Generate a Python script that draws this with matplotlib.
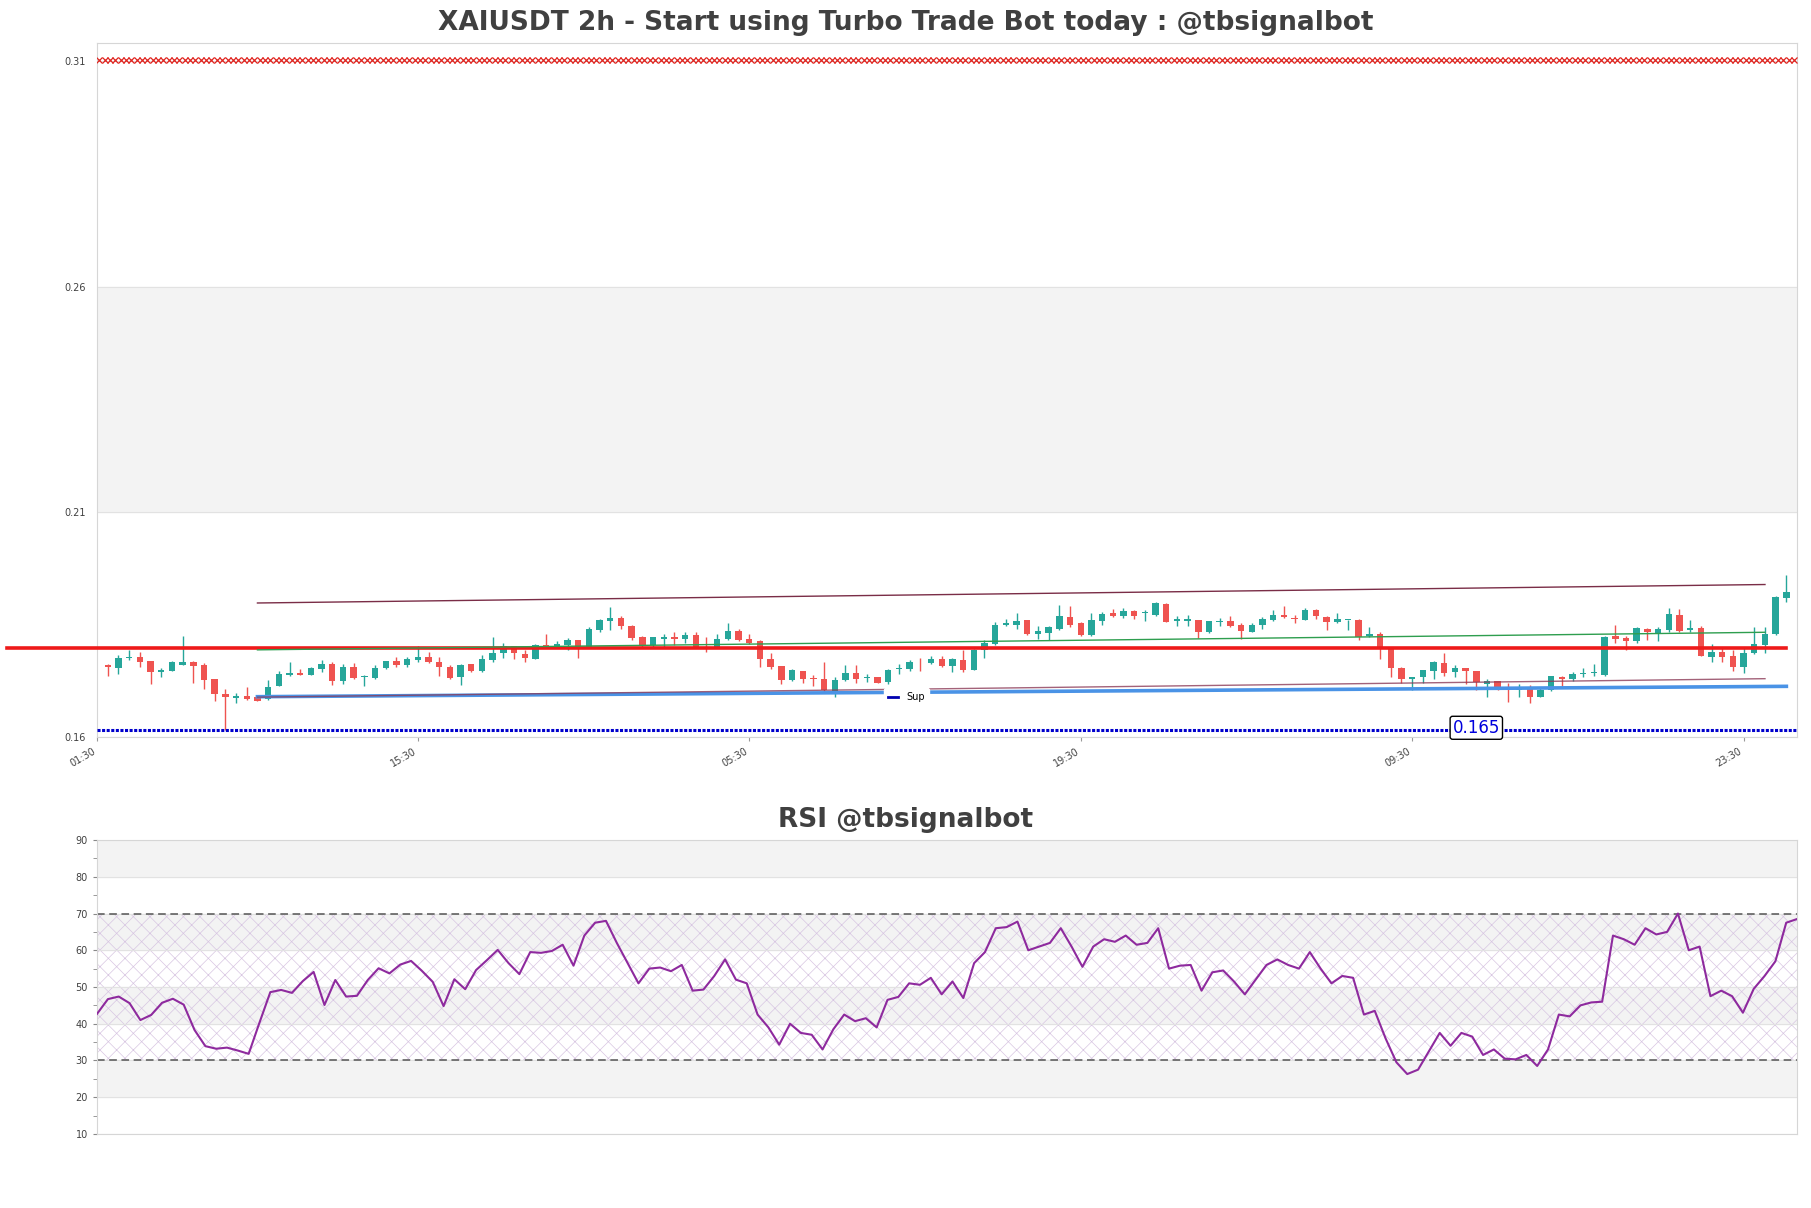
import numpy as np
import matplotlib
matplotlib.use("Agg")
import matplotlib.pyplot as plt
from matplotlib.lines import Line2D

# 2h candles (index 0 = first bar)
opens = [
    0.1761, 0.1753, 0.1775, 0.1779, 0.1770, 0.1744, 0.1748, 0.1761, 0.1767, 0.1761,
    0.1730, 0.1696, 0.1688, 0.1692, 0.1690, 0.1684, 0.1713, 0.1739, 0.1743, 0.1739,
    0.1752, 0.1763, 0.1724, 0.1756, 0.1733, 0.1732, 0.1753, 0.1770, 0.1761, 0.1772,
    0.1779, 0.1767, 0.1757, 0.1733, 0.1763, 0.1747, 0.1772, 0.1788, 0.1802, 0.1785,
    0.1774, 0.1805, 0.1803, 0.1805, 0.1816, 0.1797, 0.1839, 0.1859, 0.1864, 0.1847,
    0.1823, 0.1804, 0.1819, 0.1822, 0.1819, 0.1827, 0.1801, 0.1801, 0.1817, 0.1836,
    0.1818, 0.1814, 0.1773, 0.1758, 0.1727, 0.1747, 0.1732, 0.1730, 0.1703, 0.1726,
    0.1742, 0.1731, 0.1733, 0.1722, 0.1751, 0.1751, 0.1768, 0.1764, 0.1773, 0.1759,
    0.1772, 0.1750, 0.1793, 0.1808, 0.1850, 0.1850, 0.1861, 0.1830, 0.1832, 0.1841,
    0.1867, 0.1853, 0.1828, 0.1859, 0.1875, 0.1870, 0.1881, 0.1875, 0.1872, 0.1895,
    0.1859, 0.1859, 0.1860, 0.1834, 0.1856, 0.1858, 0.1850, 0.1834, 0.1850, 0.1861,
    0.1872, 0.1865, 0.1861, 0.1882, 0.1868, 0.1855, 0.1861, 0.1861, 0.1824, 0.1830,
    0.1796, 0.1754, 0.1729, 0.1733, 0.1748, 0.1765, 0.1744, 0.1754, 0.1747, 0.1719,
    0.1724, 0.1711, 0.1704, 0.1710, 0.1690, 0.1704, 0.1734, 0.1730, 0.1740, 0.1742,
    0.1739, 0.1824, 0.1820, 0.1813, 0.1841, 0.1831, 0.1839, 0.1872, 0.1837, 0.1843,
    0.1779, 0.1790, 0.1780, 0.1755, 0.1787, 0.1805, 0.1829, 0.1910,
]
highs = [
    0.1763, 0.1782, 0.1794, 0.1790, 0.1770, 0.1753, 0.1769, 0.1825, 0.1770, 0.1764,
    0.1730, 0.1707, 0.1698, 0.1711, 0.1694, 0.1727, 0.1747, 0.1766, 0.1751, 0.1757,
    0.1772, 0.1767, 0.1762, 0.1765, 0.1739, 0.1760, 0.1770, 0.1778, 0.1778, 0.1803,
    0.1790, 0.1779, 0.1760, 0.1763, 0.1763, 0.1782, 0.1823, 0.1810, 0.1802, 0.1793,
    0.1807, 0.1830, 0.1813, 0.1820, 0.1816, 0.1844, 0.1863, 0.1890, 0.1869, 0.1850,
    0.1825, 0.1822, 0.1830, 0.1834, 0.1833, 0.1833, 0.1822, 0.1829, 0.1854, 0.1840,
    0.1830, 0.1816, 0.1787, 0.1758, 0.1751, 0.1747, 0.1739, 0.1766, 0.1733, 0.1760,
    0.1760, 0.1741, 0.1734, 0.1751, 0.1763, 0.1772, 0.1776, 0.1781, 0.1781, 0.1776,
    0.1794, 0.1796, 0.1815, 0.1855, 0.1862, 0.1876, 0.1861, 0.1848, 0.1847, 0.1894,
    0.1892, 0.1855, 0.1876, 0.1877, 0.1884, 0.1886, 0.1883, 0.1883, 0.1900, 0.1898,
    0.1870, 0.1872, 0.1860, 0.1859, 0.1865, 0.1869, 0.1853, 0.1854, 0.1867, 0.1883,
    0.1892, 0.1872, 0.1886, 0.1885, 0.1870, 0.1876, 0.1861, 0.1862, 0.1844, 0.1833,
    0.1796, 0.1757, 0.1733, 0.1750, 0.1769, 0.1787, 0.1760, 0.1754, 0.1747, 0.1729,
    0.1724, 0.1721, 0.1719, 0.1716, 0.1711, 0.1737, 0.1736, 0.1744, 0.1753, 0.1763,
    0.1824, 0.1850, 0.1824, 0.1844, 0.1843, 0.1844, 0.1887, 0.1885, 0.1861, 0.1846,
    0.1807, 0.1801, 0.1793, 0.1800, 0.1844, 0.1844, 0.1913, 0.1961,
]
lows = [
    0.1737, 0.1740, 0.1771, 0.1755, 0.1719, 0.1733, 0.1746, 0.1761, 0.1721, 0.1708,
    0.1681, 0.1616, 0.1676, 0.1683, 0.1681, 0.1683, 0.1713, 0.1735, 0.1738, 0.1739,
    0.1744, 0.1715, 0.1719, 0.1729, 0.1713, 0.1729, 0.1751, 0.1757, 0.1755, 0.1766,
    0.1764, 0.1735, 0.1730, 0.1717, 0.1744, 0.1744, 0.1766, 0.1776, 0.1773, 0.1766,
    0.1773, 0.1800, 0.1799, 0.1793, 0.1775, 0.1797, 0.1833, 0.1837, 0.1841, 0.1816,
    0.1801, 0.1800, 0.1801, 0.1805, 0.1809, 0.1797, 0.1790, 0.1800, 0.1816, 0.1813,
    0.1807, 0.1757, 0.1751, 0.1718, 0.1724, 0.1721, 0.1713, 0.1701, 0.1690, 0.1724,
    0.1721, 0.1723, 0.1720, 0.1718, 0.1741, 0.1747, 0.1748, 0.1763, 0.1757, 0.1744,
    0.1744, 0.1749, 0.1776, 0.1804, 0.1846, 0.1841, 0.1828, 0.1819, 0.1815, 0.1839,
    0.1845, 0.1824, 0.1825, 0.1850, 0.1868, 0.1865, 0.1862, 0.1859, 0.1869, 0.1855,
    0.1847, 0.1848, 0.1821, 0.1831, 0.1846, 0.1844, 0.1818, 0.1833, 0.1841, 0.1859,
    0.1865, 0.1853, 0.1860, 0.1862, 0.1839, 0.1853, 0.1837, 0.1816, 0.1822, 0.1773,
    0.1733, 0.1720, 0.1705, 0.1720, 0.1729, 0.1736, 0.1733, 0.1719, 0.1705, 0.1690,
    0.1705, 0.1679, 0.1690, 0.1676, 0.1689, 0.1703, 0.1713, 0.1724, 0.1733, 0.1735,
    0.1737, 0.1810, 0.1794, 0.1809, 0.1815, 0.1814, 0.1834, 0.1834, 0.1834, 0.1781,
    0.1768, 0.1766, 0.1747, 0.1742, 0.1784, 0.1786, 0.1827, 0.1900,
]
closes = [
    0.1756, 0.1776, 0.1779, 0.1768, 0.1744, 0.1750, 0.1766, 0.1767, 0.1759, 0.1728,
    0.1697, 0.1690, 0.1692, 0.1685, 0.1681, 0.1712, 0.1741, 0.1743, 0.1739, 0.1754,
    0.1763, 0.1724, 0.1756, 0.1732, 0.1736, 0.1753, 0.1770, 0.1761, 0.1774, 0.1779,
    0.1766, 0.1755, 0.1732, 0.1760, 0.1748, 0.1774, 0.1787, 0.1802, 0.1786, 0.1775,
    0.1805, 0.1803, 0.1808, 0.1816, 0.1796, 0.1840, 0.1861, 0.1865, 0.1846, 0.1821,
    0.1804, 0.1822, 0.1822, 0.1819, 0.1827, 0.1798, 0.1800, 0.1818, 0.1836, 0.1815,
    0.1810, 0.1773, 0.1757, 0.1727, 0.1750, 0.1730, 0.1730, 0.1704, 0.1727, 0.1742,
    0.1729, 0.1734, 0.1721, 0.1750, 0.1754, 0.1767, 0.1766, 0.1774, 0.1759, 0.1773,
    0.1750, 0.1794, 0.1810, 0.1850, 0.1854, 0.1859, 0.1830, 0.1836, 0.1844, 0.1870,
    0.1850, 0.1828, 0.1861, 0.1874, 0.1870, 0.1881, 0.1870, 0.1877, 0.1897, 0.1855,
    0.1862, 0.1863, 0.1834, 0.1857, 0.1859, 0.1846, 0.1835, 0.1850, 0.1863, 0.1872,
    0.1867, 0.1863, 0.1882, 0.1869, 0.1855, 0.1863, 0.1861, 0.1823, 0.1830, 0.1796,
    0.1753, 0.1729, 0.1733, 0.1750, 0.1766, 0.1742, 0.1754, 0.1747, 0.1722, 0.1725,
    0.1709, 0.1708, 0.1710, 0.1689, 0.1704, 0.1735, 0.1729, 0.1741, 0.1743, 0.1744,
    0.1822, 0.1819, 0.1813, 0.1842, 0.1833, 0.1841, 0.1873, 0.1836, 0.1843, 0.1781,
    0.1789, 0.1779, 0.1755, 0.1787, 0.1807, 0.1830, 0.1912, 0.1923,
]

rsi = [
    42.7, 46.7, 47.4, 45.6, 41.0, 42.4, 45.7, 46.8, 45.2, 38.3,
    33.9, 33.2, 33.5, 32.7, 31.8, 40.3, 48.6, 49.2, 48.4, 51.6,
    54.1, 45.1, 51.9, 47.4, 47.6, 51.9, 55.1, 53.7, 56.1, 57.1,
    54.4, 51.4, 44.8, 52.1, 49.4, 54.6, 57.3, 60.1, 56.5, 53.5,
    59.5, 59.3, 59.8, 61.5, 55.8, 64.0, 67.5, 68.0, 62.0, 56.5,
    51.0, 55.0, 55.3, 54.3, 56.0, 49.0, 49.3, 53.0, 57.5, 52.0,
    51.0, 42.5, 39.0, 34.3, 40.0, 37.5, 37.0, 33.0, 38.5, 42.5,
    40.7, 41.5, 39.0, 46.5, 47.3, 51.0, 50.6, 52.5, 48.0, 51.5,
    47.0, 56.5, 59.5, 66.0, 66.3, 67.8, 60.0, 61.0, 62.0, 66.0,
    61.0, 55.5, 61.0, 63.0, 62.3, 64.0, 61.5, 62.0, 66.0, 55.0,
    55.8, 56.0, 49.0, 54.0, 54.5, 51.5, 48.0, 52.0, 56.0, 57.5,
    56.0, 55.0, 59.5, 55.0, 51.0, 53.0, 52.5, 42.5, 43.5, 36.0,
    29.5, 26.3, 27.5, 32.5, 37.5, 34.0, 37.5, 36.5, 31.5, 33.0,
    30.5, 30.3, 31.5, 28.5, 33.0, 42.5, 42.0, 45.0, 45.8, 46.0,
    64.0, 63.0, 61.5, 66.0, 64.3, 65.0, 70.0, 60.0, 61.0, 47.5,
    49.0, 47.5, 43.0, 49.5, 53.0, 57.0, 67.5, 68.5,
]

tick_pos = [-1, 29, 60, 91, 122, 153]
tick_labels = ["01:30", "15:30", "05:30", "19:30", "09:30", "23:30"]
price_ticks = [0.16, 0.21, 0.26, 0.31]

# levels and trend lines
top_level = 0.3103
low_level = 0.1615
low_label = "0.165"
pivot_level = 0.1798
chan_x = [14, 155]
chan_upper = [0.1898, 0.1939]
chan_mid = [0.1794, 0.1833]
chan_lower = [0.1689, 0.1730]
sup_x = [14, 157]
sup_y = [0.1690, 0.1713]

UP = "#26a69a"
DOWN = "#ef5350"
TXT = "#404040"
SPINE = "#d6d6d6"

fig = plt.figure(figsize=(18.11, 12.08), dpi=100)
ax = fig.add_axes([0.0536, 0.3897, 0.9387, 0.5747])
ax2 = fig.add_axes([0.0536, 0.0613, 0.9387, 0.2433])

# ---- price panel ----
n = len(closes)
x = np.arange(n)
o = np.array(opens)
c = np.array(closes)
col = np.where(c >= o, UP, DOWN)
body_lo = np.minimum(o, c)
body_h = np.maximum(np.abs(c - o), 0.00006)

ax.axhspan(0.21, 0.26, color="#f3f3f3", zorder=0)
ax.vlines(x, lows, highs, colors=col, lw=1.0, zorder=3)
ax.bar(x, body_h, 0.6, bottom=body_lo, color=col, zorder=4)

ax.plot([-9.4, n - 1], [pivot_level] * 2, color="#ee1a1a", lw=2.6,
        clip_on=False, zorder=5)
ax.plot(sup_x, sup_y, color="#4a93e6", lw=2.6, zorder=5)
ax.plot(chan_x, chan_upper, color="#7a2d47", lw=1.0, zorder=5)
ax.plot(chan_x, chan_mid, color="#2e9e4f", lw=1.0, zorder=5)
ax.plot(chan_x, chan_lower, color="#8c3b58", lw=1.0, alpha=0.8, zorder=5)

mx = np.arange(-0.8, n + 0.1, 0.5)
ax.plot(mx, [top_level] * len(mx), ls="none", marker="x", ms=5, mew=0.9,
        color="#e0241f", zorder=5)
ax.plot([-1, n], [low_level] * 2, color="#0000cc", lw=2.2,
        ls=(0, (1, 0.5)), zorder=5)
ax.text(128, low_level + 0.0006, low_label, color="#0000dd", fontsize=12,
        ha="center", va="center", zorder=7,
        bbox=dict(boxstyle="round,pad=0.15", fc="white", ec="black", lw=1))

leg = ax.legend(handles=[Line2D([], [], color="#0000b0", lw=2)], labels=["Sup"],
                loc="center", bbox_to_anchor=(0.476, 0.058), fontsize=7,
                handlelength=1.1, frameon=True, framealpha=1,
                facecolor="white", edgecolor="white")
leg.set_zorder(6)

ax.set_xlim(-1, n)
ax.set_ylim(0.16, 0.3141)
ax.set_yticks(price_ticks)
ax.set_yticklabels(["%.2f" % v for v in price_ticks])
ax.set_xticks(tick_pos)
ax.set_xticklabels(tick_labels, rotation=30, ha="right")
ax.yaxis.grid(True, color="#e2e2e2", lw=0.8, zorder=0)
ax.tick_params(axis="y", length=0, labelsize=7, labelcolor=TXT, pad=8)
ax.tick_params(axis="x", length=3, color="#999999", labelsize=7,
               labelcolor=TXT)
for s in ax.spines.values():
    s.set_color(SPINE)

# ---- RSI panel ----
xr = np.arange(len(rsi))
for lo in (20, 40, 60, 80):
    ax2.axhspan(lo, lo + 10, color="#f3f3f3", zorder=0)
plt.rcParams["hatch.linewidth"] = 0.5
ax2.fill_between([0, len(rsi) - 1], 30, 70, facecolor="none",
                 edgecolor="#d8c6e2", hatch="xx", lw=0, zorder=1)
ax2.axhline(70, color="#555555", lw=1.1, ls=(0, (5, 3)), zorder=2)
ax2.axhline(30, color="#555555", lw=1.1, ls=(0, (5, 3)), zorder=2)
ax2.plot(xr, rsi, color="#8e2a9e", lw=1.5, zorder=3)

ax2.set_xlim(0, len(rsi) - 1)
ax2.set_ylim(10, 90)
ax2.set_yticks(range(10, 91, 10))
ax2.set_yticks(range(15, 90, 10), minor=True)
ax2.set_xticks([])
ax2.yaxis.grid(True, color="#e2e2e2", lw=0.8, zorder=0)
ax2.tick_params(axis="y", which="both", length=3, color="#888888",
                labelsize=7, labelcolor=TXT)
for s in ax2.spines.values():
    s.set_color(SPINE)

fig.text(0.5, 0.981, "XAIUSDT 2h - Start using Turbo Trade Bot today : @tbsignalbot",
         ha="center", va="center", fontsize=19, fontweight="bold", color=TXT)
fig.text(0.5, 0.321, "RSI @tbsignalbot", ha="center", va="center",
         fontsize=19, fontweight="bold", color=TXT)

fig.savefig("out.png", dpi=100)
